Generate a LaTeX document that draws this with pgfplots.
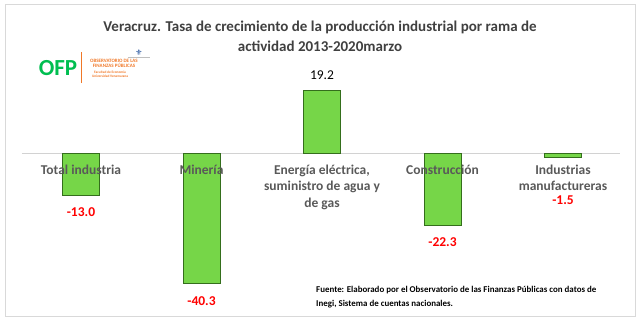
\documentclass[border=0pt]{standalone}
\usepackage{pgfplots}
\pgfplotsset{compat=1.18}
\usepackage{fontspec}
\setmainfont{Carlito}
\newfontfamily\dejavu{DejaVu Sans}
\definecolor{barfill}{RGB}{118,214,72}
\definecolor{baredge}{RGB}{52,110,28}
\definecolor{titlegray}{RGB}{64,64,64}
\definecolor{labgray}{RGB}{89,89,89}
\definecolor{ofpgreen}{RGB}{0,190,80}
\definecolor{ofporange}{RGB}{240,120,40}
\definecolor{ofpblue}{RGB}{20,70,150}
\definecolor{zeroline}{RGB}{210,210,210}
\begin{document}
\begin{tikzpicture}
\begin{axis}[
  scale only axis, width=640pt, height=321pt,
  xmin=-0.6722, xmax=4.6390, ymin=-51.80, ymax=47.18,
  clip=false,
  axis x line*=middle, axis y line=none,
  axis line style={draw=none},
  axis on top,
  xtick={0,1,2,3,4},
  xticklabels={Total industria, Minería, {Energía eléctrica,\\suministro de agua y\\de gas}, Construcción, {Industrias\\manufactureras}},
  major tick length=0pt,
  xticklabel style={font=\bfseries\fontsize{13.5}{16.5}\selectfont, text=labgray, align=center, anchor=north, yshift=-8pt},
  ybar, bar width=37pt,
  /pgf/number format/.cd, fixed, fixed zerofill, precision=1, assume math mode=true,
]
% full picture area
\path (rel axis cs:0,0) rectangle (rel axis cs:1,1);
% frame
\draw[black!15, line width=0.8pt] (rel axis cs:0.0078,0.0156) rectangle (rel axis cs:0.9922,0.9875);
% zero line
\draw[zeroline, line width=0.8pt] (axis cs:-0.49,0) -- (axis cs:4.473,0);
% title
\node[font=\bfseries\fontsize{15}{20}\selectfont, text=titlegray, align=center] at (rel axis cs:0.5,0.8863)
  {Veracruz. Tasa de crecimiento de la producción industrial por rama de\\actividad 2013-2020marzo};
% logo
\node[font=\bfseries\fontsize{23}{23}\selectfont, text=ofpgreen, inner sep=0pt] at (rel axis cs:0.0906,0.7882) {OFP};
\draw[ofporange, line width=0.6pt] (rel axis cs:0.1266,0.7414) -- (rel axis cs:0.1266,0.838);
\node[font=\bfseries\fontsize{5}{5}\selectfont, text=ofporange, align=center, inner sep=0pt] at (rel axis cs:0.1781,0.8022) {OBSERVATORIO DE LAS\\FINANZAS PÚBLICAS};
\node[font=\bfseries\fontsize{3.5}{3.6}\selectfont, text=ofporange, align=center, inner sep=0pt] at (rel axis cs:0.1719,0.7679) {Facultad de Economía\\Universidad Veracruzana};
\node[font=\dejavu\fontsize{8}{8}\selectfont, text=ofpblue, inner sep=0pt] at (rel axis cs:0.2172,0.8349) {⚜};
\draw[black!25, line width=0.4pt] (rel axis cs:0.2,0.8224) -- (rel axis cs:0.2344,0.8224);
% source
\node[font=\bfseries\fontsize{8.9}{14}\selectfont, anchor=north west, align=left, inner sep=0pt] at (rel axis cs:0.4938,0.1103)
  {Fuente: Elaborado por el Observatorio de las Finanzas Públicas con datos de\\Inegi, Sistema de cuentas nacionales.};
\addplot[fill=barfill, draw=baredge, line width=0.9pt, bar shift=0pt,
  nodes near coords,
  every node near coord/.append style={font=\bfseries\fontsize{13.5}{14}\selectfont, text=red, anchor=north, inner sep=0pt, yshift=-12pt}]
  coordinates {(0,-13.0) (1,-40.3) (3,-22.3)};
\addplot[fill=barfill, draw=baredge, line width=0.9pt, bar shift=0pt,
  nodes near coords,
  every node near coord/.append style={font=\fontsize{13.5}{14}\selectfont, text=black, anchor=south, inner sep=0pt, yshift=11pt}]
  coordinates {(2,19.2)};
\addplot[fill=barfill, draw=baredge, line width=0.9pt, bar shift=0pt,
  nodes near coords,
  every node near coord/.append style={font=\bfseries\fontsize{13.5}{14}\selectfont, text=red, anchor=north, inner sep=0pt, yshift=-37pt}]
  coordinates {(4,-1.5)};
\end{axis}
\end{tikzpicture}
\end{document}
